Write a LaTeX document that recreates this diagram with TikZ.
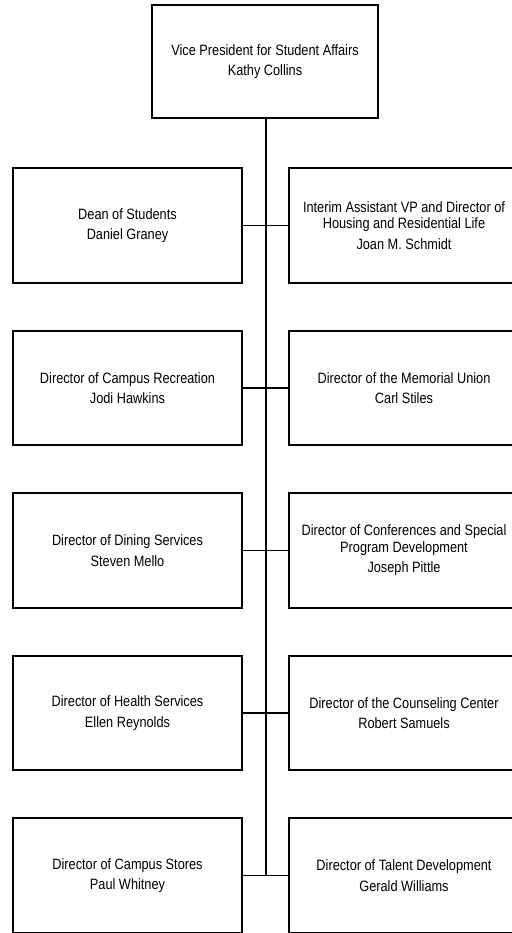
\documentclass[tikz,border=0pt]{standalone}
\usepackage{fontspec}
\setmainfont{Liberation Sans}[FakeStretch=0.85]
\begin{document}
\begin{tikzpicture}[x=1pt,y=-1pt,
  box/.style={draw=black, line width=2pt, align=center, inner sep=2pt,
    font=\fontsize{15}{16.5}\selectfont},
  lbox/.style={box, minimum width=229pt, minimum height=114.5pt},
  rbox/.style={box, minimum width=230pt, minimum height=114.5pt},
  link/.style={draw=black, line width=1.3pt}]
\useasboundingbox (0,0) rectangle (511,933);
\node[box, minimum width=226pt, minimum height=113pt] (vp) at (265,61.5)
  {Vice President for Student Affairs\\[4pt]Kathy Collins};
\node[lbox] (l1) at (127.5,225.5) {Dean of Students\\[4pt]Daniel Graney};
\node[rbox] (r1) at (404,225.5) {Interim Assistant VP and Director of\\Housing and Residential Life\\[4pt]Joan M. Schmidt};
\node[lbox] (l2) at (127.5,388) {Director of Campus Recreation\\[4pt]Jodi Hawkins};
\node[rbox] (r2) at (404,388) {Director of the Memorial Union\\[4pt]Carl Stiles};
\node[lbox] (l3) at (127.5,550.5) {Director of Dining Services\\[4pt]Steven Mello};
\node[rbox] (r3) at (404,550.5) {Director of Conferences and Special\\Program Development\\[4pt]Joseph Pittle};
\node[lbox] (l4) at (127.5,713) {Director of Health Services\\[4pt]Ellen Reynolds};
\node[rbox] (r4) at (404,713) {Director of the Counseling Center\\[4pt]Robert Samuels};
\node[lbox] (l5) at (127.5,875.5) {Director of Campus Stores\\[4pt]Paul Whitney};
\node[rbox] (r5) at (404,875.5) {Director of Talent Development\\[4pt]Gerald Williams};
\coordinate (trunkend) at ([xshift=1pt]vp.south |- l5.east);
\draw[link] ([xshift=1pt]vp.south) -- (trunkend);
\foreach \i in {1,...,5} {
  \draw[link] (l\i.east) -- (r\i.west);
}
\end{tikzpicture}
\end{document}
